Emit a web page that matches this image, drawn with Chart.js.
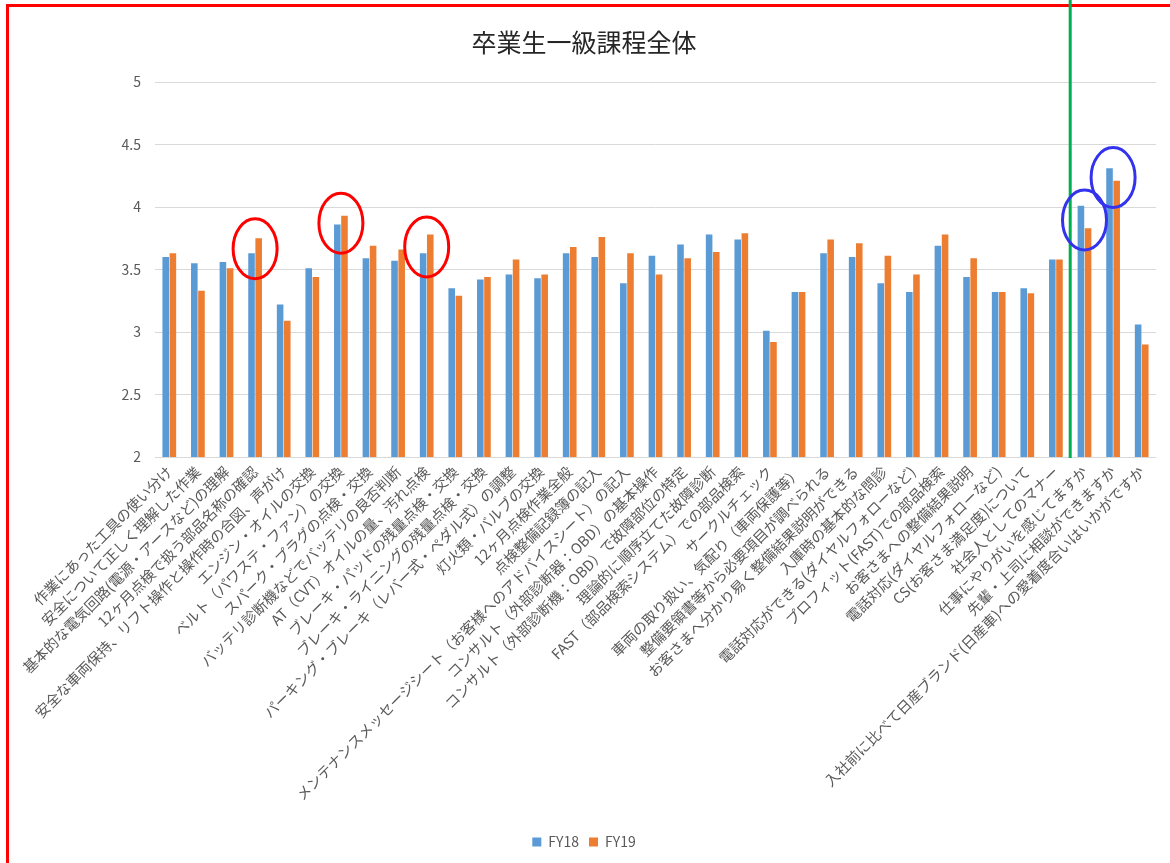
<!DOCTYPE html>
<html lang="ja">
<head>
<meta charset="utf-8">
<title>卒業生一級課程全体</title>
<script src="https://cdn.jsdelivr.net/npm/chart.js@4.4.1/dist/chart.umd.min.js"></script>
<style>
  html, body { margin: 0; padding: 0; background: #fff; }
  #wrap { width: 1170px; height: 863px; }
</style>
</head>
<body>
<div id="wrap"><canvas id="gradChart" width="1170" height="863"></canvas></div>
<script>
// chart data
const categories = [
    '作業にあった工具の使い分け',
    '安全について正しく理解した作業',
    '基本的な電気回路(電源・アースなど)の理解',
    '12ヶ月点検で扱う部品名称の確認',
    '安全な車両保持、リフト操作と操作時の合図、声がけ',
    'エンジン・オイルの交換',
    'ベルト（パワステ・ファン）の交換',
    'スパーク・プラグの点検・交換',
    'バッテリ診断機などでバッテリの良否判断',
    'AT（CVT）オイルの量、汚れ点検',
    'ブレーキ・パッドの残量点検・交換',
    'ブレーキ・ライニングの残量点検・交換',
    'パーキング・ブレーキ（レバー式・ペダル式）の調整',
    '灯火類・バルブの交換',
    '12ヶ月点検作業全般',
    '点検整備記録簿の記入',
    'メンテナンスメッセージシート（お客様へのアドバイスシート）の記入',
    'コンサルト（外部診断器：OBD）の基本操作',
    'コンサルト（外部診断機：OBD）で故障部位の特定',
    '理論的に順序立てた故障診断',
    'FAST（部品検索システム）での部品検索',
    'サークルチェック',
    '車両の取り扱い、気配り（車両保護等）',
    '整備要領書等から必要項目が調べられる',
    'お客さまへ分かり易く整備結果説明ができる',
    '入庫時の基本的な問診',
    '電話対応ができる(ダイヤルフォローなど)',
    'プロフィット(FAST)での部品検索',
    'お客さまへの整備結果説明',
    '電話対応(ダイヤルフォローなど)',
    'CS(お客さま満足度)について',
    '社会人としてのマナー',
    '仕事にやりがいを感じてますか',
    '先輩・上司に相談ができますか',
    '入社前に比べて日産ブランド(日産車)への愛着度合いはいかがですか',
];

const fy18 = [
    3.60, 3.55, 3.56, 3.63, 3.22, 3.51, 3.86, 3.59, 3.57, 3.63,
    3.35, 3.42, 3.46, 3.43, 3.63, 3.60, 3.39, 3.61, 3.70, 3.78,
    3.74, 3.01, 3.32, 3.63, 3.60, 3.39, 3.32, 3.69, 3.44, 3.32,
    3.35, 3.58, 4.01, 4.31, 3.06,
];

const fy19 = [
    3.63, 3.33, 3.51, 3.75, 3.09, 3.44, 3.93, 3.69, 3.66, 3.78,
    3.29, 3.44, 3.58, 3.46, 3.68, 3.76, 3.63, 3.46, 3.59, 3.64,
    3.79, 2.92, 3.32, 3.74, 3.71, 3.61, 3.46, 3.78, 3.59, 3.32,
    3.31, 3.58, 3.83, 4.21, 2.90,
];

const yTicks = [2, 2.5, 3, 3.5, 4, 4.5, 5];
const yTickLabels = ['2', '2.5', '3', '3.5', '4', '4.5', '5'];

// hand-drawn marks on the original slide
const redCircled  = [3, 6, 9];
const blueCircled = [32, 33];
const dividerAfter = 31;   // green line between these two categories

const BLUE   = '#5b9bd5';
const ORANGE = '#ed7d31';
const GRID   = '#d9d9d9';
const TEXT   = '#595959';

Chart.defaults.font.family = '"Noto Sans CJK JP", "Noto Sans", sans-serif';

const markupPlugin = {
    id: 'markup',
    afterDraw(chart) {
        const ctx = chart.ctx;
        const x = chart.scales.x;
        const y = chart.scales.y;
        ctx.save();

        // frame round the slide
        ctx.strokeStyle = '#ff0000';
        ctx.lineWidth = 3;
        ctx.beginPath();
        ctx.moveTo(7.5, chart.height);
        ctx.lineTo(7.5, 5.5);
        ctx.lineTo(chart.width, 5.5);
        ctx.stroke();

        // green divider
        const gx = (x.getPixelForValue(dividerAfter) + x.getPixelForValue(dividerAfter + 1)) / 2;
        ctx.strokeStyle = '#00b050';
        ctx.lineWidth = 3;
        ctx.beginPath();
        ctx.moveTo(gx, 0);
        ctx.lineTo(gx, y.getPixelForValue(yTicks[0]) + 1);
        ctx.stroke();

        const ring = (idx, color) => {
            const cx = x.getPixelForValue(idx);
            const cy = (y.getPixelForValue(fy18[idx]) + y.getPixelForValue(fy19[idx])) / 2 + 3;
            ctx.strokeStyle = color;
            ctx.lineWidth = 3;
            ctx.beginPath();
            ctx.ellipse(cx, cy, 22, 30, 0, 0, Math.PI * 2);
            ctx.stroke();
        };
        redCircled.forEach(i => ring(i, '#ff0000'));
        blueCircled.forEach(i => ring(i, '#3333ee'));

        ctx.restore();
    }
};

new Chart(document.getElementById('gradChart').getContext('2d'), {
    type: 'bar',
    data: {
        labels: categories,
        datasets: [
            { label: 'FY18', data: fy18, backgroundColor: BLUE,   categoryPercentage: 0.5, barPercentage: 0.92 },
            { label: 'FY19', data: fy19, backgroundColor: ORANGE, categoryPercentage: 0.5, barPercentage: 0.92 },
        ],
    },
    options: {
        responsive: false,
        animation: false,
        layout: { padding: { left: 12, right: 14, top: 0, bottom: 4 } },
        plugins: {
            title: {
                display: true,
                text: '卒業生一級課程全体',
                color: '#262626',
                font: { size: 25, weight: 'normal' },
                padding: { top: 27, bottom: 25 },
            },
            legend: {
                position: 'bottom',
                labels: {
                    color: TEXT,
                    font: { size: 14 },
                    boxWidth: 9,
                    boxHeight: 9,
                    padding: 10,
                },
            },
            tooltip: { enabled: false },
        },
        scales: {
            x: {
                grid: { display: false, drawTicks: false },
                border: { display: false },
                ticks: {
                    color: TEXT,
                    font: { size: 14.5 },
                    autoSkip: false,
                    minRotation: 45,
                    maxRotation: 45,
                    padding: 6,
                },
                afterFit(scale) { scale.height = 368; },
            },
            y: {
                min: yTicks[0],
                max: yTicks[yTicks.length - 1],
                afterBuildTicks(scale) { scale.ticks = yTicks.map(v => ({ value: v })); },
                grid: { color: GRID, drawTicks: false },
                border: { display: false },
                ticks: {
                    color: TEXT,
                    font: { size: 14 },
                    padding: 14,
                    callback: (v, i) => yTickLabels[i],
                },
                afterFit(scale) { scale.width = 143; },
            },
        },
    },
    plugins: [markupPlugin],
});
</script>
</body>
</html>
